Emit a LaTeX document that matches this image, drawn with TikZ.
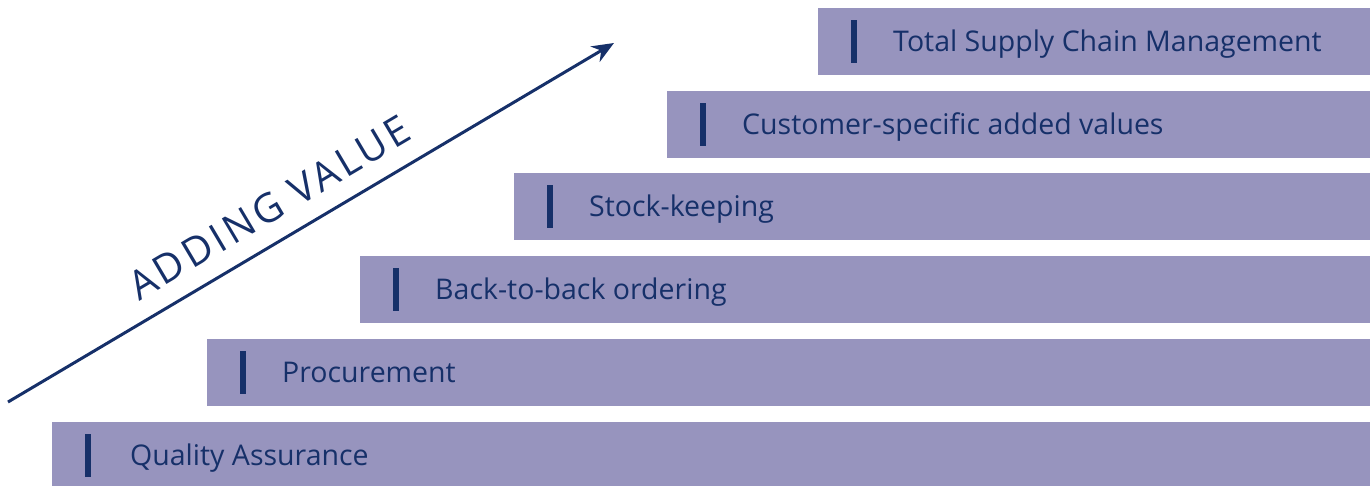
\documentclass[tikz,border=0pt]{standalone}
\usepackage{fontspec}
\setmainfont{Open Sans}
\newfontfamily\widefont[LetterSpace=9]{Open Sans}
\usepackage{xcolor}
\usetikzlibrary{positioning,arrows.meta}
\definecolor{barfill}{RGB}{151,148,190}
\definecolor{navy}{RGB}{22,48,105}

\tikzset{
    stepbar/.style={fill=barfill, inner sep=0pt, minimum height=67pt, anchor=north west},
    barmark/.style={fill=navy, inner sep=0pt, minimum width=6pt, minimum height=43pt},
    barlabel/.style={text=navy, font=\fontsize{28.5}{33}\selectfont, inner sep=0pt, text height=20pt, text depth=0pt}
}

\begin{document}
\begin{tikzpicture}[x=1pt, y=-1pt]
    \useasboundingbox (0,0) rectangle (1370,486);

    % steps, bottom to top
    \node [stepbar, minimum width=1330pt] (qa) at (52,422) {};
    \node [barmark, right=33pt of qa.west] (qamark) {};
    \node [barlabel, right=78pt of qa.west] (qatext) {Quality Assurance};

    \node [stepbar, minimum width=1170pt] (proc) at (207,339) {};
    \node [barmark, right=33pt of proc.west] (procmark) {};
    \node [barlabel, right=75pt of proc.west] (proctext) {Procurement};

    \node [stepbar, minimum width=1020pt] (btb) at (360,256) {};
    \node [barmark, right=33pt of btb.west] (btbmark) {};
    \node [barlabel, right=75pt of btb.west] (btbtext) {Back-to-back ordering};

    \node [stepbar, minimum width=860pt] (stock) at (514,173) {};
    \node [barmark, right=33pt of stock.west] (stockmark) {};
    \node [barlabel, right=75pt of stock.west] (stocktext) {Stock-keeping};

    \node [stepbar, minimum width=710pt] (custom) at (667,91) {};
    \node [barmark, right=33pt of custom.west] (custommark) {};
    \node [barlabel, right=75pt of custom.west] (customtext) {Customer-specific added values};

    \node [stepbar, minimum width=560pt] (tscm) at (818,8) {};
    \node [barmark, right=33pt of tscm.west] (tscmmark) {};
    \node [barlabel, right=75pt of tscm.west] (tscmtext) {Total Supply Chain Management};

    % rising arrow
    \coordinate (tail) at (8,402);
    \coordinate (head) at (614,43);
    \draw [navy, line width=3pt, -{Stealth[length=22pt, width=18pt]}] (tail) -- (head)
        node [sloped, pos=0.46, above=18pt, inner sep=0pt, text=navy, font=\widefont\fontsize{40}{46}\selectfont] (adding) {ADDING VALUE};
\end{tikzpicture}
\end{document}
